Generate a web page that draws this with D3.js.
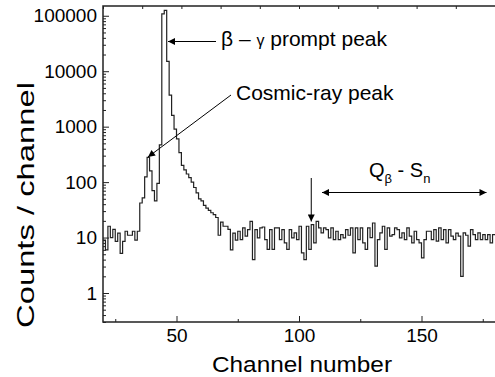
<!DOCTYPE html>
<html>
<head>
<meta charset="utf-8">
<script src="https://cdn.jsdelivr.net/npm/d3@7"></script>
<style>
  html, body { margin: 0; padding: 0; background: #fff; }
  svg { display: block; }
  text { font-family: "Liberation Sans", Arial, Helvetica, sans-serif; fill: #000; }
</style>
</head>
<body>
<svg id="chart" width="495" height="377"></svg>
<script>
// ---- data ----
const firstChannel = 20;
// counts per channel, channels 20..179
const counts = [
  9, 6, 16, 10, 14, 8.5, 12, 5.2, 8.5, 13,            // 20-29
  11, 11, 13, 9, 13, 42, 52, 124, 280, 160,           // 30-39
  70, 46, 95, 470, 108000, 125000, 15000, 3700, 1600, 900, // 40-49
  600, 340, 200, 166, 140, 120, 100, 80, 64, 50,      // 50-59
  46, 38, 34, 31, 28, 26, 23, 11, 19, 16,             // 60-69
  16, 14, 6, 12, 9, 13, 9.2, 14.9, 10.6, 13.9,        // 70-79
  19.6, 4.0, 13.9, 9.9, 14.9, 15.5, 9.2, 6.1, 13.9, 6.1, // 80-89
  14.9, 14.9, 9.2, 13.9, 8.0, 6.1, 13.9, 9.9, 12.1, 9.2, // 90-99
  16, 5.3, 4.0, 16, 6.1, 17.1, 8.0, 19.6, 14.9, 12.1, // 100-109
  14.9, 13.9, 9.9, 14.9, 9.2, 13, 9.2, 11.3, 9.9, 13.9, // 110-119
  11, 14.9, 5.3, 14.9, 9.2, 14.9, 8, 6.1, 14.9, 10,   // 120-129
  18.3, 3.05, 9.2, 12.1, 16, 6.1, 14.9, 10.6, 11.3, 14.9, // 130-139
  13.9, 9.9, 12.1, 9.2, 14.9, 10.6, 8.0, 13, 9.2, 8,  // 140-149
  4.3, 9.2, 13, 13, 9.2, 13.9, 8.6, 14.9, 9.2, 13.9,  // 150-159
  8.0, 13.9, 10.6, 9.2, 12, 10.6, 2.0, 12.1, 11, 7.0, // 160-169
  13.9, 11.3, 9.2, 12.1, 9.2, 11.3, 9.2, 11.3, 8, 11.3 // 170-179
];
const xDomain = [20, 180];
const yDomain = [0.3, 150000];
const xMajorTicks = [50, 100, 150];
const xMinorTicks = [25, 75, 125, 175];
const topTicks = [20, 36, 52, 68, 84, 100, 116, 132, 148, 164, 180];
const yMajorTicks = [1, 10, 100, 1000, 10000, 100000];
const xTitle = "Channel number";
const yTitle = "Counts / channel";

// ---- layout ----
const svg = d3.select("#chart");
const L = 103, R = 495, T = 6, B = 322;

const x = d3.scaleLinear().domain(xDomain).range([L, R]);
const y = d3.scaleLog().domain(yDomain).range([B, T]);

// minor log ticks
const yMinorTicks = [];
for (let e = -1; e <= 5; e++) {
  for (let m = 2; m <= 9; m++) {
    const v = m * Math.pow(10, e);
    if (v >= yDomain[0] && v <= yDomain[1]) yMinorTicks.push(v);
  }
}

// ---- spectrum ----
const pts = counts.map((v, i) => [firstChannel + i, v]);
pts.push([firstChannel + counts.length, counts[counts.length - 1]]);
const line = d3.line().x(d => x(d[0])).y(d => y(d[1])).curve(d3.curveStepAfter);

svg.append("defs").append("clipPath").attr("id", "clip")
  .append("rect").attr("x", L).attr("y", T).attr("width", R - L).attr("height", B - T);

svg.append("path")
  .datum(pts)
  .attr("clip-path", "url(#clip)")
  .attr("fill", "none")
  .attr("stroke", "#222")
  .attr("stroke-width", 1.2)
  .attr("d", line);

// ---- axes ----
const fmt = d => String(d);
svg.append("g").attr("transform", `translate(${L},0)`)
  .call(d3.axisLeft(y).tickValues(yMajorTicks).tickFormat(fmt).tickSizeInner(-6).tickSizeOuter(0).tickPadding(6));
svg.append("g").attr("transform", `translate(${L},0)`)
  .call(d3.axisLeft(y).tickValues(yMinorTicks).tickFormat("").tickSizeInner(-3).tickSizeOuter(0));
svg.append("g").attr("transform", `translate(0,${B})`)
  .call(d3.axisBottom(x).tickValues(xMajorTicks).tickFormat(fmt).tickSizeInner(-6).tickSizeOuter(0).tickPadding(7));
svg.append("g").attr("transform", `translate(0,${B})`)
  .call(d3.axisBottom(x).tickValues(xMinorTicks).tickFormat("").tickSizeInner(-3).tickSizeOuter(0));
svg.append("g").attr("transform", `translate(0,${T})`)
  .call(d3.axisTop(x).tickValues(topTicks).tickFormat("").tickSizeInner(-3).tickSizeOuter(0));

svg.selectAll(".tick text").attr("font-size", 19).attr("font-family", "Liberation Sans, Arial, sans-serif").attr("fill", "#000");
svg.selectAll(".domain").remove();
svg.selectAll(".tick line").attr("stroke", "#222").attr("stroke-width", 1);

// frame
svg.append("path")
  .attr("d", `M${R + 1},${T}H${L}V${B}H${R + 1}`)
  .attr("fill", "none").attr("stroke", "#222").attr("stroke-width", 1.5);

// titles
svg.append("text").attr("x", 302).attr("y", 372).attr("text-anchor", "middle")
  .attr("font-size", 22).attr("textLength", 180).attr("lengthAdjust", "spacingAndGlyphs").text(xTitle);
svg.append("text").attr("transform", `translate(34,205) rotate(-90)`)
  .attr("text-anchor", "middle").attr("font-size", 24)
  .attr("textLength", 246).attr("lengthAdjust", "spacingAndGlyphs").text(yTitle);

// ---- annotations ----
const defs = svg.select("defs");
defs.append("marker").attr("id", "ah").attr("viewBox", "0 0 10 10")
  .attr("refX", 10).attr("refY", 5).attr("markerWidth", 9).attr("markerHeight", 7)
  .attr("markerUnits", "userSpaceOnUse").attr("orient", "auto-start-reverse")
  .append("path").attr("d", "M0,0L10,5L0,10Z").attr("fill", "#000");

function arrow(x1, y1, x2, y2, both) {
  const p = svg.append("line").attr("x1", x1).attr("y1", y1).attr("x2", x2).attr("y2", y2)
    .attr("stroke", "#000").attr("stroke-width", 1).attr("marker-end", "url(#ah)");
  if (both) p.attr("marker-start", "url(#ah)");
}

// beta-gamma prompt peak
arrow(216, 41.5, 168, 41.5);
const t1 = svg.append("text").attr("x", 221).attr("y", 46).attr("font-size", 21);
t1.append("tspan").text("β – ");
t1.append("tspan").attr("font-size", 16).text("γ");
t1.append("tspan").text(" prompt peak");

// cosmic-ray peak
arrow(231, 95, 148, 157);
svg.append("text").attr("x", 236).attr("y", 100).attr("font-size", 21).text("Cosmic-ray peak");

// Qβ - Sn
arrow(x(105), 178, x(105), 221.5);
arrow(322, 192.5, 486.5, 192.5, true);
const t2 = svg.append("text").attr("x", 369).attr("y", 177).attr("font-size", 20);
t2.append("tspan").text("Q");
t2.append("tspan").attr("font-size", 13).attr("dy", 6).text("β");
t2.append("tspan").attr("dy", -6).text(" - S");
t2.append("tspan").attr("font-size", 13).attr("dy", 6).text("n");
</script>
</body>
</html>
